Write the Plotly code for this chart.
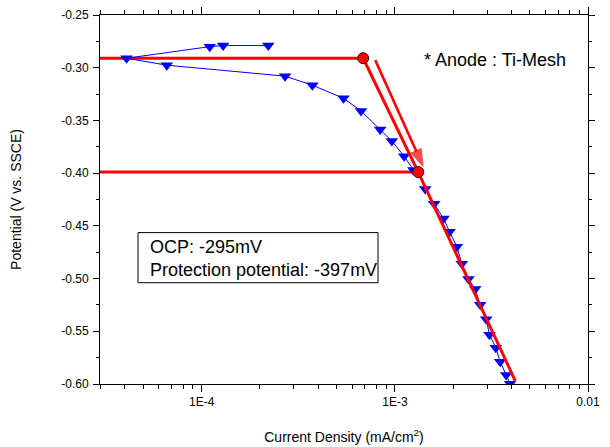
import plotly.graph_objects as go
import numpy as np

# Measured polarization data (current density mA/cm2, potential V vs SSCE)
current = [2.21e-4, 1.29e-4, 1.10e-4, 4.08e-5, 6.59e-5, 2.70e-4, 3.74e-4, 5.42e-4,
           6.68e-4, 8.39e-4, 9.64e-4, 1.117e-3, 1.247e-3, 1.321e-3, 1.436e-3, 1.598e-3,
           1.786e-3, 1.919e-3, 2.094e-3, 2.223e-3, 2.404e-3, 2.606e-3, 2.767e-3, 2.972e-3,
           3.09e-3, 3.33e-3, 3.51e-3, 3.77e-3, 3.95e-3]
potential = [-0.279, -0.279, -0.280, -0.291, -0.2976, -0.308, -0.3166, -0.329,
             -0.341, -0.3587, -0.3695, -0.384, -0.397, -0.3996, -0.415, -0.429,
             -0.443, -0.4555, -0.4697, -0.486, -0.5004, -0.510, -0.5249, -0.5385,
             -0.5534, -0.5655, -0.5788, -0.5915, -0.5997]

# Red construction lines
ocp_x = [2.97e-5, 6.85e-4]
ocp_y = [-0.291, -0.291]
prot_x = [2.97e-5, 1.321e-3]
prot_y = [-0.399, -0.399]
tafel_x = [6.85e-4, 1.321e-3, 4.20e-3]
tafel_y = [-0.291, -0.399, -0.597]
dots_x = [6.85e-4, 1.321e-3]
dots_y = [-0.291, -0.399]
arrow_x = [7.91e-4, 1.40e-3]
arrow_y = [-0.2928, -0.3936]

x_major = [1e-4, 1e-3, 1e-2]
x_major_text = ["1E-4", "1E-3", "0.01"]
y_ticks = [-0.25, -0.30, -0.35, -0.40, -0.45, -0.50, -0.55, -0.60]
y_ticktext = [f"{v:.2f}" for v in y_ticks]

minor_x = [m * 10.0 ** e for e in (-5, -4, -3) for m in range(2, 10) if m * 10.0 ** e >= 3e-5]
minor_y = [-0.275, -0.325, -0.375, -0.425, -0.475, -0.525, -0.575]

red = "#ff0000"
blue = "#0000ff"
FONT = "Liberation Sans, Arial, sans-serif"

fig = go.Figure()
fig.add_trace(go.Scatter(x=ocp_x, y=ocp_y, mode="lines", line=dict(color=red, width=3), showlegend=False))
fig.add_trace(go.Scatter(x=prot_x, y=prot_y, mode="lines", line=dict(color=red, width=3), showlegend=False))
fig.add_trace(go.Scatter(x=current, y=potential, mode="lines+markers",
                         line=dict(color=blue, width=1),
                         marker=dict(symbol="triangle-down", size=11, color=blue),
                         showlegend=False))
fig.add_trace(go.Scatter(x=tafel_x, y=tafel_y, mode="lines", line=dict(color=red, width=3), showlegend=False))
fig.add_trace(go.Scatter(x=arrow_x, y=arrow_y, mode="lines+markers",
                         line=dict(color=red, width=2.5),
                         marker=dict(symbol="arrow", size=[0, 18], color=red, angleref="previous",
                                     standoff=0, line=dict(color=red, width=1)),
                         showlegend=False))
fig.add_trace(go.Scatter(x=dots_x, y=dots_y, mode="markers",
                         marker=dict(symbol="circle", size=11, color=red, line=dict(color="#400000", width=1)),
                         showlegend=False))

# Legend-like text box
fig.add_shape(type="rect", xref="paper", yref="paper", x0=0.0779, x1=0.5697, y0=0.2745, y1=0.4103,
              line=dict(color="black", width=1), fillcolor="rgba(0,0,0,0)")
fig.add_annotation(x=0.0984, xref="paper", y=0.3397, yref="paper",
                   text="OCP: -295mV<br>Protection potential: -397mV",
                   showarrow=False, xanchor="left", yanchor="middle", align="left",
                   font=dict(family=FONT, size=18, color="black"))
fig.add_annotation(x=0.659, xref="paper", y=0.878, yref="paper", text="* Anode : Ti-Mesh",
                   showarrow=False, xanchor="left", yanchor="middle",
                   font=dict(family=FONT, size=18, color="black"))

fig.update_layout(
    width=610, height=447,
    margin=dict(l=100, r=22, t=15, b=63, autoexpand=False),
    paper_bgcolor="white", plot_bgcolor="white",
    font=dict(family=FONT, size=12, color="black"),
    xaxis=dict(type="log", range=[-4.527, -2], tickvals=x_major, ticktext=x_major_text,
               automargin=False,
               showgrid=False, zeroline=False, showline=True, linecolor="black", linewidth=1,
               mirror="ticks", ticks="outside", ticklen=7, tickcolor="black", ticklabelstandoff=0,
               minor=dict(tickvals=minor_x, ticks="outside", ticklen=4, tickcolor="black", showgrid=False),
               title=dict(text="Current Density (mA/cm<sup>2</sup>)", font=dict(size=14), standoff=23)),
    yaxis=dict(range=[-0.60, -0.25], tickvals=y_ticks, ticktext=y_ticktext,
               automargin=False,
               showgrid=False, zeroline=False, showline=True, linecolor="black", linewidth=1,
               mirror="ticks", ticks="outside", ticklen=6, tickcolor="black", ticklabelstandoff=2,
               minor=dict(tickvals=minor_y, ticks="outside", ticklen=3, tickcolor="black", showgrid=False),
               title=dict(text="Potential (V vs. SSCE)", font=dict(size=14), standoff=36)),
)

fig.write_html("out.html")
